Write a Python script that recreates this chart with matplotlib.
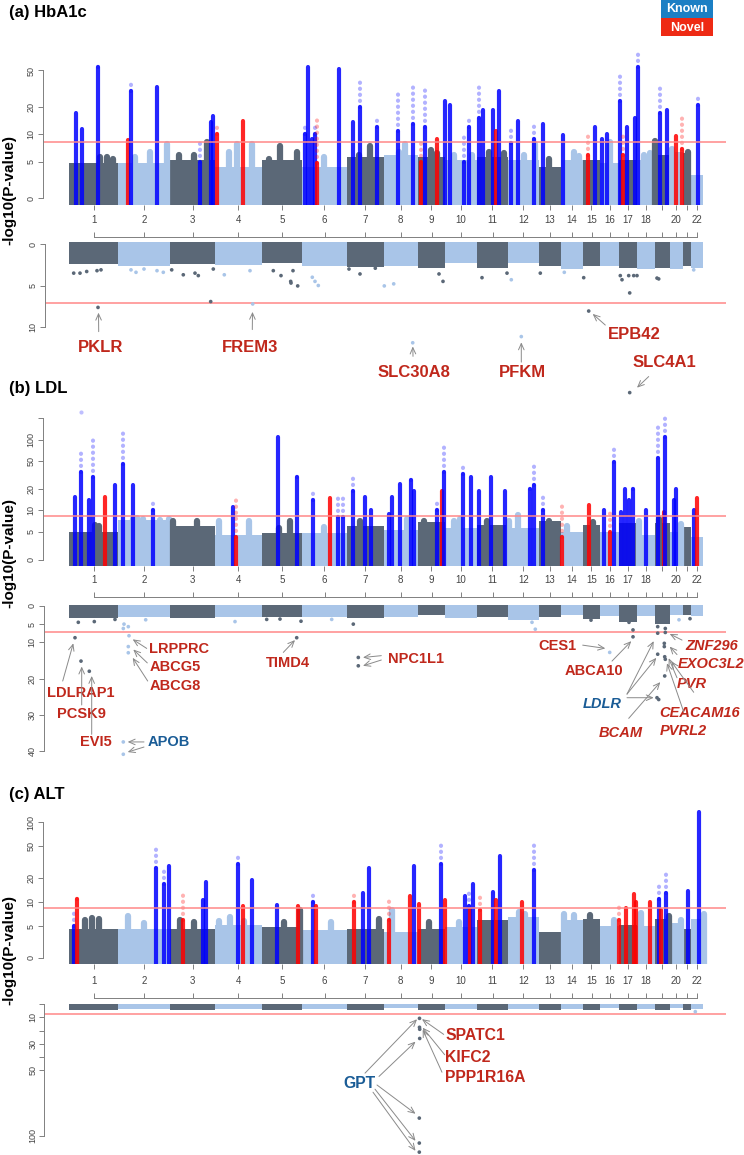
import numpy as np
import matplotlib
matplotlib.use("Agg")
import matplotlib.pyplot as plt
from matplotlib.patches import Rectangle
from matplotlib.ticker import NullLocator

plt.rcParams['font.family'] = ['Liberation Sans', 'DejaVu Sans']
TICKFONT = ['Liberation Sans Narrow', 'Liberation Sans', 'DejaVu Sans']

# ---------------- data ----------------
chroms = [str(i) for i in range(1, 23)]
# chromosome widths on the plot's x axis (plot units)
chrom_len = [49.3, 51.7, 45.0, 46.7, 40.6, 44.4, 37.0, 34.0, 27.6, 31.7, 31.0,
             30.7, 22.6, 21.4, 17.6, 19.0, 17.7, 17.7, 15.0, 13.3, 8.3, 11.7]
chrom_shown = ['' if c in ('19', '21') else c for c in chroms]

# peaks: (position, solid top, faint top, 'B' known / 'R' novel), -log10 P
hba1c_peaks = [
    (7.0, 17, 17, 'B'), (12.7, 11.5, 11.5, 'B'), (29.3, 55, 57, 'B'),
    (59.3, 8.7, 8.7, 'R'), (61.7, 30, 38, 'B'), (87.7, 33, 33, 'B'),
    (131.0, 5, 8.3, 'B'), (141.7, 13.5, 13.5, 'B'), (144.3, 16, 16, 'B'), (147.7, 10, 13, 'R'),
    (174.3, 14, 14, 'R'),
    (236.0, 10, 12, 'B'), (239.3, 55, 55, 'B'), (243.0, 9, 9, 'B'), (246.0, 10.2, 13, 'B'),
    (247.7, 4.9, 16, 'R'),
    (270.0, 52, 52, 'B'), (283.7, 13.5, 13.5, 'B'), (291.0, 20, 40, 'B'), (308.0, 12, 16, 'B'),
    (328.7, 11, 28, 'B'), (343.7, 13, 36, 'B'), (352.0, 5, 8.3, 'R'), (356.3, 12, 33, 'B'),
    (368.0, 8.8, 8.8, 'R'), (376.3, 23, 23, 'B'), (380.7, 21, 21, 'B'),
    (394.7, 5, 9.8, 'B'), (399.7, 12, 15, 'B'), (409.7, 15, 34, 'B'), (414.0, 18.6, 18.6, 'B'),
    (423.7, 18.6, 18.6, 'B'), (427.0, 11, 11, 'R'), (430.3, 30, 30, 'B'), (442.3, 8, 12, 'B'),
    (448.7, 14, 14, 'B'), (465.3, 9, 13, 'B'), (473.7, 13, 13, 'B'), (493.7, 9.8, 9.8, 'B'),
    (518.7, 6, 9.5, 'R'), (526.3, 12, 12, 'B'), (533.0, 8.8, 8.8, 'B'), (538.0, 10, 10, 'B'),
    (551.3, 23, 46, 'B'), (553.7, 6, 10.5, 'R'), (558.0, 12, 12, 'B'), (566.5, 15, 15, 'B'),
    (568.7, 55, 80, 'B'), (591.3, 17, 34, 'B'), (598.0, 18.6, 18.6, 'B'), (607.0, 9.7, 9.7, 'R'),
    (613.0, 7, 15, 'R'), (628.7, 21, 25, 'B'),
]
hba1c_bg = [4.8, 4.8, 5.2, 4.3, 5.2, 4.3, 5.6, 6.0, 5.6, 5.2, 5.6, 5.2, 4.3, 5.2, 5.2,
            4.8, 5.2, 5.2, 6.0, 6.5, 6.3, 3.2]
hba1c_bumps = [(31, 5.6), (38, 5.7), (44, 5.4), (66, 5.7), (81, 6.5), (97.7, 7.9),
               (110, 6.0), (125, 6.0), (137.7, 8.3), (160, 6.5), (167.7, 7.9), (182.7, 7.9),
               (200, 5.4), (211, 7.5), (227.7, 6.5), (255, 5.7), (301, 7.5), (290, 6.0),
               (336.3, 7.9), (330, 6.5), (368, 6.3), (362, 6.8), (385, 6.0), (403, 6.0),
               (419.7, 6.5), (435, 6.2), (455, 6.0), (466.3, 7.9), (480, 5.4), (504.7, 6.5),
               (510, 5.8), (541.3, 8.2), (575, 6.0), (581.3, 6.3), (586.3, 8.4), (603, 7.0),
               (619, 6.5)]
hba1c_depth = [2.4, 2.6, 2.4, 2.5, 2.3, 2.6, 2.7, 2.6, 2.9, 2.3, 2.9, 2.3, 2.6, 3.0, 2.6,
               2.6, 2.9, 3.0, 2.9, 3.0, 2.6, 2.9]
hba1c_rare = [(29.0, 7.66), (141.7, 6.95), (183.7, 7.24), (343.7, 11.95), (452.3, 11.2),
              (519.7, 8.1), (560.7, 18.0),
              (4.7, 3.5), (11, 3.5), (17.7, 3.3), (28, 3.2), (32, 3.1), (62, 3.1), (67, 3.4),
              (75, 3.0), (88, 3.2), (94.3, 3.4), (102.7, 3.1), (114.3, 3.7), (126, 3.5),
              (129.3, 3.8), (144.3, 3.0), (155.3, 3.7), (181, 3.2), (204.3, 3.2), (212, 3.8),
              (221.7, 4.5), (222, 4.7), (228.7, 5.05), (224, 3.2), (243.3, 4.0), (246, 4.5),
              (249.3, 5.0), (280, 3.0), (291, 3.6), (306.3, 2.9), (315.3, 5.05), (324.7, 4.8),
              (374, 4.5), (370, 3.6), (413, 4.05), (438, 3.5), (442.3, 4.3), (471.3, 3.5),
              (495.3, 3.4), (514.7, 4.05), (551.3, 3.8), (553, 4.3), (559.7, 3.8),
              (564.7, 3.8), (568, 3.8), (560.7, 5.9), (588, 4.1), (589.7, 4.2), (624.7, 3.1)]

ldl_peaks = [
    (6.0, 15.6, 15.6, 'B'), (11.7, 35, 75, 'B'), (20.3, 14, 14, 'B'), (24.3, 30, 110, 'B'),
    (36.0, 15.6, 15.6, 'R'), (46.0, 23, 23, 'B'), (54.3, 45, 128, 'B'), (64.3, 23, 23, 'B'),
    (83.7, 10, 14, 'B'), (164.3, 11.3, 11.3, 'B'), (167.0, 4, 16, 'R'),
    (209.3, 110, 110, 'B'), (227.7, 30, 33, 'B'), (243.7, 14, 18, 'B'), (261.0, 15, 15, 'R'),
    (268.7, 8, 17, 'B'), (274.3, 8, 17, 'B'), (284.3, 19, 30, 'B'), (296.0, 15.6, 15.6, 'B'),
    (302.0, 10, 10, 'B'), (319.7, 8.8, 8.8, 'B'), (323.0, 15.6, 15.6, 'B'), (330.7, 24, 24, 'B'),
    (342.3, 27, 30, 'B'), (344.7, 19, 19, 'B'), (368.0, 10, 14, 'B'), (373.0, 19, 19, 'R'),
    (374.7, 35, 84, 'B'), (393.7, 33, 49, 'B'), (402.3, 30, 30, 'B'), (409.7, 19, 19, 'B'),
    (422.3, 30, 30, 'B'), (435.7, 19, 19, 'B'), (460.5, 20, 23, 'B'), (465.0, 23, 46, 'B'),
    (473.7, 10, 18, 'B'), (493.0, 4, 12.6, 'R'), (519.7, 12, 12, 'R'), (535.3, 10, 10, 'B'),
    (541.3, 5, 10, 'R'), (544.7, 49, 80, 'B'), (552.3, 9.5, 9.5, 'B'), (556.3, 20, 20, 'B'),
    (559.7, 14, 14, 'B'), (564.0, 20, 23, 'B'), (577.0, 10, 10, 'B'), (588.7, 55, 152, 'B'),
    (594.7, 9.5, 9.5, 'R'), (596.3, 110, 234, 'B'), (604.7, 14, 14, 'B'), (607.3, 20, 20, 'B'),
    (625.3, 10, 10, 'B'), (628.0, 15, 15, 'R'),
]
ldl_extra = [(11.7, 247, 'B')]
ldl_bg = [5.0, 7.3, 6.0, 4.5, 4.7, 4.8, 6.0, 5.3, 6.9, 5.6, 6.3, 5.6, 7.2, 5.0, 6.2,
          5.0, 6.6, 4.4, 6.6, 5.0, 5.8, 4.0]
ldl_bumps = [(26, 6.2), (30, 6.0), (64, 7.7), (68, 7.8), (74, 7.6), (91, 7.4), (100, 7.5),
             (104, 7.0), (128, 7.2), (150, 7.2), (180, 7.2), (210, 5.6), (221, 7.2),
             (255, 5.8), (291, 7.2), (338, 7.7), (355, 7.0), (391, 7.7), (385, 7.0),
             (418, 7.0), (449, 8.6), (440, 7.0), (480, 7.2), (498, 6.0), (524, 6.8),
             (570, 7.2), (590, 7.5), (612, 6.5)]
ldl_depth = [3.4, 3.0, 3.4, 3.0, 3.0, 3.0, 3.2, 3.0, 2.5, 3.4, 3.0, 3.8, 3.0, 2.5, 3.6,
             2.8, 4.3, 2.8, 5.0, 2.5, 2.4, 2.8]
ldl_rare = [(6, 8.75), (12, 15.2), (20.3, 18), (9.3, 4.5), (25.3, 4.3), (46, 3.7),
            (54.3, 6.2), (59.3, 5.7), (60, 8.2), (59.3, 11.2), (59.3, 12.9), (55, 5),
            (54.3, 37.5), (54.3, 40.9), (76.7, 3.8), (166, 4.3), (197.7, 3.7), (211, 3.6),
            (227.7, 8.75), (232, 4.2), (262.7, 3.7), (284.3, 5), (289.3, 14.2), (289.3, 16.5),
            (466.3, 6.4), (463, 4.5), (522, 3.9), (540.7, 12.8), (564, 6.6), (564, 8.5),
            (560, 4.5), (588.7, 5.7), (588.7, 7.5), (596.3, 6.2), (596.3, 7.3), (588.7, 13.3),
            (595.3, 10.3), (595.3, 11.2), (595.7, 14), (596.3, 14.7), (595.7, 19.3),
            (588, 25.3), (589.7, 25.8), (610, 3.8), (621, 3.5)]

alt_peaks = [
    (5.0, 5, 8.3, 'B'), (8.3, 11, 12.9, 'R'), (87.0, 27, 47, 'B'), (95.0, 17, 25, 'B'),
    (100.0, 28, 28, 'B'), (113.7, 6, 12.2, 'R'), (134.3, 10.5, 10.5, 'B'), (137.0, 18, 18, 'B'),
    (169.3, 30, 41, 'B'), (173.7, 9, 9, 'R'), (183.3, 19, 19, 'B'), (207.7, 9.3, 9.3, 'B'),
    (229.3, 9, 9, 'R'), (244.3, 10, 14, 'B'), (247.0, 9, 9, 'R'), (285.3, 10, 14, 'R'),
    (294.3, 12.9, 12.9, 'B'), (300.3, 27, 27, 'B'), (319.7, 6, 10.5, 'R'), (340.7, 12, 12, 'R'),
    (345.3, 28, 28, 'B'), (350.3, 9.5, 9.5, 'R'), (372.0, 30, 57, 'B'), (375.7, 10.5, 10.5, 'R'),
    (396.3, 12, 12, 'B'), (400.3, 9, 13, 'B'), (401.3, 8, 8, 'R'), (403.7, 17, 17, 'B'),
    (411.3, 8, 13, 'R'), (423.7, 13.5, 13.5, 'B'), (427.0, 10.5, 10.5, 'R'), (430.7, 38, 38, 'B'),
    (453.0, 10, 10, 'R'), (465.3, 25, 58, 'B'), (549.7, 6, 9.5, 'R'), (557.0, 8.5, 8.5, 'R'),
    (565.0, 12.5, 12.5, 'R'), (567.0, 10, 10, 'R'), (580.7, 10, 10, 'R'), (589.7, 11, 17, 'B'),
    (592.3, 8, 8, 'R'), (597.0, 12.9, 24, 'B'), (619.0, 13.6, 13.6, 'B'), (629.7, 136, 136, 'B'),
]
alt_bg = [4.6, 4.6, 4.6, 5.2, 4.8, 4.3, 4.6, 4.0, 4.6, 4.8, 5.9, 6.5, 4.0, 5.9, 6.2,
          5.0, 5.2, 5.0, 6.2, 5.5, 4.6, 6.2]
alt_bumps = [(16, 6.0), (23, 6.3), (30, 6.2), (59, 6.6), (75, 5.4), (111, 6.0), (125, 5.6),
             (150, 5.8), (161, 6.5), (175, 5.8), (215, 5.6), (231, 8.0), (262, 5.6),
             (310, 6.2), (323, 8.0), (360, 5.6), (390, 5.6), (450, 7.5), (456, 7.0),
             (495, 7.0), (505, 6.8), (521, 6.8), (545, 6.0), (572, 7.2), (600, 6.6),
             (612, 6.0), (635, 7.0)]
alt_depth = [4.3, 3.3, 4.2, 3.2, 4.3, 3.3, 4.2, 3.1, 4.3, 3.2, 4.2, 3.3, 4.1, 3.2, 4.2,
             3.1, 4.3, 3.2, 4.2, 3.1, 4.0, 3.6]
alt_rare = [(350.5, 10.7), (350.5, 17.5), (350.7, 19), (350.7, 26), (350.3, 86.6),
            (350.3, 105.6), (350.3, 112.5), (626.3, 5.6)]

# ---------------- style ----------------
W, H = 744, 1155
DARK, LIGHT = '#5b6877', '#a9c5e8'
PEAK = {'B': '#0000ff', 'R': '#ff0000'}
RED_T, BLUE_T = '#c0281c', '#1a5c96'
AXC, TXC = '#808080', '#444444'
GENOME_PX = 69  # pixel where chromosome 1 starts

chrom_start = np.concatenate([[0], np.cumsum(chrom_len)[:-1]])
chrom_mid = chrom_start + np.array(chrom_len) / 2
chrom_col = [DARK if i % 2 == 0 else LIGHT for i in range(22)]


def col_at(x):
    i = np.searchsorted(chrom_start, x, side='right') - 1
    return chrom_col[int(np.clip(i, 0, 21))]


LOG2, LOG25, LOG5 = np.log10(2), np.log10(2.5), np.log10(5)


def fwd(v):
    v = np.asarray(v, float)
    return np.where(v < 5, LOG2 + v / 5 * LOG25, np.log10(np.maximum(v, 5)))


def inv(t):
    t = np.asarray(t, float)
    return np.where(t < LOG5, (t - LOG2) / LOG25 * 5, 10 ** np.maximum(t, LOG5))


def ident(v):
    return np.asarray(v, float)


fig = plt.figure(figsize=(W / 100, H / 100), dpi=100)


def make_axes(x0, x1, top, bottom, anchors, log_like):
    ax = fig.add_axes([x0 / W, 1 - bottom / H, (x1 - x0) / W, (bottom - top) / H])
    f, g = (fwd, inv) if log_like else (ident, ident)
    if log_like:
        ax.set_yscale('function', functions=(fwd, inv))
    (va, pa), (vb, pb) = anchors
    ta, tb = f(va), f(vb)
    at = lambda p: ta + (p - pa) * (tb - ta) / (pb - pa)
    ax.set_ylim(float(g(at(bottom))), float(g(at(top))))
    ax.set_xlim(x0 - GENOME_PX, x1 - GENOME_PX)
    ax.patch.set_alpha(0)
    return ax


def style_y(ax, ticks, labels):
    ax.set_yticks(ticks)
    ax.set_yticklabels(labels, rotation=90, va='center', fontfamily=TICKFONT)
    ax.yaxis.set_minor_locator(NullLocator())
    ax.tick_params(axis='y', length=3.5, width=0.7, color=AXC, labelsize=6.5,
                   labelcolor=TXC, pad=1.5)
    ax.spines['left'].set_bounds(ticks[0], ticks[-1])
    ax.spines['left'].set_color(AXC)
    ax.spines['left'].set_linewidth(0.7)
    for s in ('right', 'bottom', 'top'):
        ax.spines[s].set_visible(False)


def draw_upper(ax, peaks, bg, bumps, ticks, labels, extra=()):
    y0 = ax.get_ylim()[0]
    ax.bar(chrom_mid, np.array(bg) - y0, bottom=y0, width=chrom_len, color=chrom_col, lw=0)
    bx = [b[0] for b in bumps]
    vl = ax.vlines(bx, y0, [b[1] for b in bumps], colors=[col_at(x) for x in bx], lw=4.5)
    vl.set_capstyle('round')
    for x, solid, faint, c in peaks:
        if faint > solid:
            fl = ax.vlines(x, solid, faint, colors=PEAK[c], lw=3.0, alpha=0.3,
                           linestyles=[(0, (0.05, 1.4))])
            fl.set_capstyle('round')
        sl = ax.vlines(x, y0, solid, colors=PEAK[c], lw=3.0, alpha=0.85)
        sl.set_capstyle('round')
    for x, v, c in extra:
        ax.scatter(x, v, s=9, color=PEAK[c], alpha=0.25, lw=0)
    ax.axhline(8.3, color='#ff8888', lw=1.1)
    style_y(ax, ticks, labels)
    ax.set_xticks(chrom_mid)
    ax.tick_params(axis='x', bottom=True, labelbottom=False, length=3.5, width=0.7,
                   color=AXC)


def draw_lower(ax, depth, rare, ticks, labels):
    ax.bar(chrom_mid, np.array(depth) + 0.25, bottom=-0.25, width=chrom_len,
           color=chrom_col, lw=0)
    rx = [r[0] for r in rare]
    ax.scatter(rx, [r[1] for r in rare], s=7, c=[col_at(x) for x in rx], lw=0,
               clip_on=False, zorder=3)
    ax.axhline(7.1, color='#ff8888', lw=1.1)
    style_y(ax, ticks, labels)
    ax.spines['top'].set_visible(True)
    ax.spines['top'].set_bounds(chrom_mid[0], chrom_mid[-1])
    ax.spines['top'].set_color(AXC)
    ax.spines['top'].set_linewidth(0.7)
    ax.xaxis.tick_top()
    ax.set_xticks(chrom_mid)
    ax.set_xticklabels(chrom_shown, fontfamily=TICKFONT)
    ax.tick_params(axis='x', top=True, labeltop=True, bottom=False, labelbottom=False,
                   length=3.5, width=0.7, color=AXC, labelsize=7, labelcolor=TXC, pad=5)


def genes(ax, items, size):
    for text, x, v, ha, style, color, arrows in items:
        ax.text(x, v, text, color=color, fontsize=size, fontweight='bold', style=style,
                ha=ha, va='center', clip_on=False)
        for x0, v0, x1, v1 in arrows:
            ax.annotate('', xy=(x1, v1), xytext=(x0, v0), annotation_clip=False,
                        arrowprops=dict(arrowstyle='->,head_length=0.45,head_width=0.2',
                                        color='#8a8a8a', lw=0.7, shrinkA=0, shrinkB=0))


# ---------------- (a) HbA1c ----------------
a1 = make_axes(42.7, 726, 45, 205, [(0, 198.3), (50, 70.5)], True)
draw_upper(a1, hba1c_peaks, hba1c_bg, hba1c_bumps, [0, 5, 10, 20, 50],
           ['0', '5', '10', '20', '50'])
a2 = make_axes(44.5, 726, 237.3, 330, [(0, 244.3), (10, 326.7)], False)
draw_lower(a2, hba1c_depth, hba1c_rare, [0, 5, 10], ['0', '5', '10'])
genes(a2, [
    ('PKLR', 31.3, 12.5, 'center', 'normal', RED_T, [(29.7, 10.6, 29.5, 8.3)]),
    ('FREM3', 181, 12.5, 'center', 'normal', RED_T, [(183.3, 10.35, 183.5, 8.2)]),
    ('SLC30A8', 344.7, 15.6, 'center', 'normal', RED_T, [(344, 13.6, 343.8, 12.4)]),
    ('PFKM', 453, 15.6, 'center', 'normal', RED_T, [(452.3, 14.3, 452.3, 11.9)]),
    ('EPB42', 565.7, 11.0, 'center', 'normal', RED_T, [(536.3, 9.8, 523.7, 8.45)]),
    ('SLC4A1', 595.5, 14.4, 'center', 'normal', RED_T, [(579.7, 16.05, 568, 17.4)]),
], 12)

# ---------------- (b) LDL ----------------
b1 = make_axes(42.7, 726, 405, 566, [(0, 560), (100, 439.6)], True)
draw_upper(b1, ldl_peaks, ldl_bg, ldl_bumps, [0, 5, 10, 20, 50, 100, 200],
           ['0', '5', '10', '20', '50', '100', ''], extra=ldl_extra)
b2 = make_axes(43.5, 726, 596.7, 760, [(0, 606), (40, 751)], False)
draw_lower(b2, ldl_depth, ldl_rare, [0, 5, 10, 20, 30, 40],
           ['0', '5', '10', '20', '30', '40'])
genes(b2, [
    ('LRPPRC', 80.5, 11.8, 'left', 'normal', RED_T, [(77.7, 11.7, 63.7, 9.2)]),
    ('ABCG5', 80.5, 16.9, 'left', 'normal', RED_T, [(78.3, 15.7, 64.3, 12.0)]),
    ('ABCG8', 80.5, 22.05, 'left', 'normal', RED_T, [(78.7, 20.7, 63.7, 14.3)]),
    ('LDLRAP1', 11.8, 23.9, 'center', 'normal', RED_T, [(-6.3, 20.7, 4.3, 10.3)]),
    ('PCSK9', 12.5, 29.9, 'center', 'normal', RED_T, [(12.7, 27.3, 12.7, 16.7)]),
    ('EVI5', 27.2, 37.5, 'center', 'normal', RED_T, [(22.7, 35.4, 22.7, 19.3)]),
    ('APOB', 100.2, 37.5, 'center', 'normal', BLUE_T,
     [(75, 37.5, 58.7, 37.5), (75, 38.9, 58.7, 40.3)]),
    ('TIMD4', 219.2, 15.7, 'center', 'normal', RED_T, [(214.3, 12.8, 226, 9.4)]),
    ('NPC1L1', 347.2, 14.5, 'center', 'normal', RED_T,
     [(312.3, 13.7, 294, 14.2), (312.3, 14.9, 294, 16.5)]),
    ('CES1', 488.3, 11.0, 'center', 'normal', RED_T, [(513.7, 10.8, 536.3, 11.7)]),
    ('ABCA10', 525, 18.0, 'center', 'normal', RED_T, [(543, 15.2, 562.3, 9.7)]),
    ('LDLR', 533, 27.1, 'center', 'italic', BLUE_T,
     [(558, 24.3, 584.7, 9.7), (558, 24.3, 587.3, 14.3), (558, 25.3, 584.7, 25.3)]),
    ('BCAM', 551.7, 35.0, 'center', 'italic', RED_T, [(559.7, 31.0, 591.3, 21.0)]),
    ('ZNF296', 616.3, 11.0, 'left', 'italic', RED_T, [(613, 9.4, 600.7, 7.7)]),
    ('EXOC3L2', 609, 16.0, 'left', 'italic', RED_T, [(608, 13.4, 600.7, 11.2)]),
    ('PVR', 608, 21.4, 'left', 'italic', RED_T, [(608, 19.8, 599.7, 14.4)]),
    ('CEACAM16', 590.3, 29.4, 'left', 'italic', RED_T, [(624.7, 23.8, 602.3, 15.3)]),
    ('PVRL2', 590.3, 34.4, 'left', 'italic', RED_T, [(614.7, 29.2, 598, 15.8)]),
], 10.5)

# ---------------- (c) ALT ----------------
c1 = make_axes(42.7, 726, 805, 964.3, [(0, 957.7), (100, 822.4)], True)
draw_upper(c1, alt_peaks, alt_bg, alt_bumps, [0, 5, 10, 20, 50, 100],
           ['0', '5', '10', '20', '50', '100'])
c2 = make_axes(44.3, 726, 998.3, 1140, [(0, 1004.3), (100, 1135.7)], False)
draw_lower(c2, alt_depth, alt_rare, [0, 10, 20, 30, 40, 50, 100],
           ['', '10', '', '30', '', '50', '100'])
genes(c2, [
    ('GPT', 290, 60.1, 'center', 'normal', BLUE_T,
     [(296, 52.4, 348, 11.4), (310, 54.9, 346.5, 28.4), (308, 61.4, 346.5, 83.3),
      (306, 64.6, 346.5, 103.9), (304, 66.9, 346.5, 111.5)]),
    ('SPATC1', 376.3, 24.0, 'left', 'normal', RED_T, [(374.7, 22.9, 353, 11.3)]),
    ('KIFC2', 376.3, 40.4, 'left', 'normal', RED_T, [(375.7, 38.4, 353.7, 17.8)]),
    ('PPP1R16A', 376.3, 56, 'left', 'normal', RED_T, [(373, 51.7, 353.7, 19.3)]),
], 11.3)

# ---------------- titles, y labels, legend ----------------
for txt, y in [('(a) HbA1c', 12), ('(b) LDL', 388), ('(c) ALT', 794)]:
    fig.text(9 / W, 1 - y / H, txt, fontsize=12, fontweight='bold', ha='left', va='center')
for y in (190, 553, 950):
    fig.text(9 / W, 1 - y / H, '-log10(P-value)', fontsize=11, fontweight='bold',
             rotation=90, ha='center', va='center')

for name, color, top in [('Known', '#1b7fc4', 0), ('Novel', '#ee2a14', 18.3)]:
    fig.add_artist(Rectangle((661.3 / W, 1 - (top + 17.5) / H), 51.4 / W, 17.5 / H,
                             transform=fig.transFigure, facecolor=color, edgecolor='none'))
    fig.text(687 / W, 1 - (top + 9.3) / H, name, color='white', fontsize=9,
             fontweight='bold', ha='center', va='center')

fig.savefig('out.png', dpi=100)
